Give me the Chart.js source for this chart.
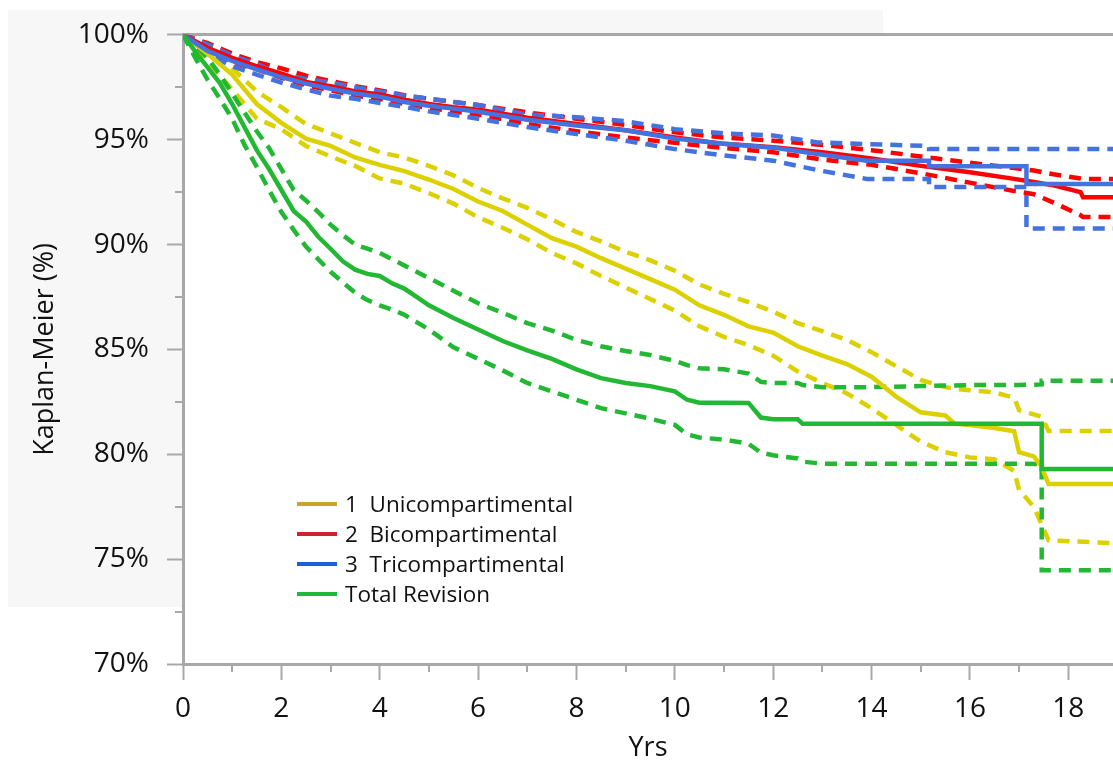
<!DOCTYPE html>
<html>
<head>
<meta charset="utf-8">
<title>Kaplan-Meier</title>
<script src="https://cdn.jsdelivr.net/npm/chart.js@4.4.1/dist/chart.umd.min.js"></script>
<style>
    html, body { margin: 0; padding: 0; background: #ffffff; }
    #wrap { position: relative; width: 1113px; height: 762px; }
    #legend {
        position: absolute; left: 297px; top: 489px;
        font-family: 'Open Sans', sans-serif; font-size: 22.5px; color: #111111;
    }
    .row { position: relative; height: 30px; line-height: 30px; white-space: pre; padding-left: 48px; }
    .row .sw { position: absolute; left: 0; top: 13px; width: 40px; height: 4px; }
</style>
</head>
<body>
<div id="wrap">
    <canvas id="kmChart" width="1113" height="762"></canvas>
    <div id="legend"></div>
</div>
<script>
// Kaplan-Meier survival by group (years, %), with confidence bands

// 1 Unicompartimental
const uniYears = [0, 0.5, 1, 1.5, 2, 2.5, 3, 3.5, 4, 4.5, 5, 5.5, 6, 6.5, 7, 7.5, 8, 8.5, 9, 9.5, 10, 10.5, 11, 11.5, 12, 12.5, 13, 13.5, 14, 14.5, 15, 15.5, 15.7, 16, 16.5, 16.9, 17.0, 17.3, 17.45, 17.6, 18.91];
const uniKM    = [100, 99.1, 98.1, 96.7, 95.8, 95.05, 94.7, 94.15, 93.8, 93.5, 93.1, 92.65, 92.05, 91.6, 90.95, 90.3, 89.9, 89.35, 88.85, 88.35, 87.85, 87.1, 86.65, 86.1, 85.8, 85.15, 84.7, 84.3, 83.7, 82.75, 82.0, 81.85, 81.45, 81.4, 81.25, 81.1, 80.1, 79.9, 79.45, 78.58, 78.58];
const uniHi    = [100, 99.5, 98.4, 97.3, 96.55, 95.75, 95.3, 94.85, 94.4, 94.15, 93.75, 93.3, 92.7, 92.2, 91.75, 91.2, 90.6, 90.15, 89.65, 89.25, 88.75, 88.1, 87.65, 87.25, 86.8, 86.25, 85.87, 85.45, 84.87, 84.2, 83.55, 83.2, 83.12, 83.05, 82.95, 82.7, 82.1, 81.9, 81.8, 81.11, 81.11];
const uniLo    = [100, 98.7, 97.4, 96.0, 95.5, 94.7, 94.2, 93.75, 93.15, 92.9, 92.45, 91.95, 91.3, 90.8, 90.25, 89.6, 89.1, 88.5, 87.95, 87.4, 86.85, 86.1, 85.6, 85.2, 84.7, 83.95, 83.4, 82.9, 82.2, 81.4, 80.6, 80.1, 80.0, 79.85, 79.77, 79.2, 78.3, 77.5, 76.7, 75.9, 75.76];

// 2 Bicompartimental
const biYears = [0, 0.5, 1, 1.5, 2, 2.5, 3, 3.5, 4, 4.5, 5, 5.5, 6, 7, 8, 9, 10, 11, 12, 13, 14, 15, 16, 16.9, 17.3, 17.7, 18.25, 18.3, 18.91];
const biKM    = [100, 99.38, 98.9, 98.5, 98.15, 97.75, 97.55, 97.3, 97.15, 96.9, 96.7, 96.55, 96.43, 96.05, 95.75, 95.45, 95.1, 94.8, 94.64, 94.4, 94.1, 93.75, 93.45, 93.13, 92.98, 92.82, 92.5, 92.26, 92.26];
const biHi    = [100, 99.6, 99.1, 98.7, 98.4, 98.05, 97.8, 97.55, 97.35, 97.12, 96.95, 96.8, 96.65, 96.3, 96.0, 95.7, 95.35, 95.1, 94.95, 94.75, 94.5, 94.2, 93.9, 93.65, 93.53, 93.35, 93.15, 93.13, 93.13];
const biLo    = [100, 99.25, 98.7, 98.35, 97.95, 97.6, 97.35, 97.1, 96.95, 96.7, 96.5, 96.35, 96.2, 95.75, 95.4, 95.1, 94.85, 94.6, 94.4, 94.05, 93.8, 93.4, 92.95, 92.55, 92.4, 92.0, 91.4, 91.31, 91.31];

// 3 Tricompartimental
const triYears = [0, 0.5, 1, 1.5, 2, 2.5, 3, 3.5, 4, 4.5, 5, 5.5, 6, 7, 8, 9, 10, 11, 12, 12.9, 13.9, 15.17, 15.17, 17.15, 17.15, 18.91];
const triKM    = [100, 99.23, 98.75, 98.35, 97.98, 97.67, 97.43, 97.2, 97.05, 96.8, 96.62, 96.48, 96.33, 95.95, 95.68, 95.45, 95.05, 94.8, 94.62, 94.32, 94.0, 94.0, 93.73, 93.73, 92.89, 92.89];
const triHi    = [100, 99.54, 99.0, 98.6, 98.12, 97.9, 97.72, 97.5, 97.3, 97.1, 96.95, 96.8, 96.65, 96.2, 96.07, 95.88, 95.5, 95.3, 95.2, 94.87, 94.79, 94.7, 94.56, 94.56, 94.56, 94.56];
const triLo    = [100, 99.07, 98.5, 98.1, 97.72, 97.4, 97.1, 96.95, 96.75, 96.56, 96.35, 96.18, 96.0, 95.6, 95.27, 94.95, 94.55, 94.25, 94.0, 93.55, 93.13, 93.13, 92.74, 92.74, 90.76, 90.76];

// Total Revision
const totYears = [0, 0.25, 0.5, 0.75, 1, 1.25, 1.5, 1.75, 2, 2.25, 2.5, 2.75, 3, 3.25, 3.5, 3.75, 4, 4.25, 4.5, 4.75, 5, 5.5, 6, 6.5, 7, 7.5, 8, 8.5, 9, 9.5, 10, 10.25, 10.5, 11, 11.5, 11.75, 12, 12.5, 12.6, 13, 14, 15, 16, 17, 17.46, 17.46, 18.91];
const totKM    = [100, 99.2, 98.45, 97.7, 96.7, 95.6, 94.5, 93.6, 92.6, 91.6, 91.1, 90.37, 89.8, 89.2, 88.8, 88.6, 88.5, 88.15, 87.9, 87.5, 87.1, 86.5, 85.95, 85.4, 84.95, 84.55, 84.05, 83.63, 83.4, 83.25, 83.0, 82.6, 82.46, 82.46, 82.45, 81.75, 81.67, 81.67, 81.45, 81.45, 81.45, 81.45, 81.45, 81.45, 81.45, 79.3, 79.3];
const totHi    = [100, 99.5, 98.9, 98.1, 97.2, 96.3, 95.4, 94.6, 93.6, 92.6, 92.1, 91.55, 90.95, 90.45, 90.0, 89.8, 89.6, 89.3, 89.0, 88.7, 88.4, 87.8, 87.2, 86.75, 86.25, 85.9, 85.45, 85.15, 84.92, 84.73, 84.45, 84.25, 84.1, 84.05, 83.85, 83.45, 83.4, 83.4, 83.3, 83.2, 83.2, 83.25, 83.3, 83.3, 83.33, 83.5, 83.5];
const totLo    = [100, 98.9, 97.85, 96.95, 96.0, 94.75, 93.7, 92.6, 91.55, 90.7, 89.9, 89.3, 88.7, 88.2, 87.7, 87.35, 87.1, 86.9, 86.65, 86.3, 85.95, 85.1, 84.55, 84.0, 83.4, 83.0, 82.6, 82.2, 81.95, 81.7, 81.4, 80.95, 80.8, 80.7, 80.5, 80.08, 79.95, 79.8, 79.65, 79.55, 79.55, 79.55, 79.55, 79.55, 79.53, 74.47, 74.47];

const groupNames = ['1  Unicompartimental', '2  Bicompartimental', '3  Tricompartimental', 'Total Revision'];
const lineColors = ['#dcd000', '#ff0000', '#4472e0', '#22b833'];
const legendColors = ['#c9a62a', '#d0202e', '#1a60d8', '#20b838'];

const yTickValues = [70, 75, 80, 85, 90, 95, 100];
const xTickLabels = [0, 2, 4, 6, 8, 10, 12, 14, 16, 18];

const AXIS_GRAY = '#a8a8a8';
const TEXT_COLOR = '#111111';

function toPoints(years, values) {
    return years.map((x, i) => ({ x: x, y: values[i] }));
}

function makeLine(label, years, values, color, dashed, order) {
    return {
        label: label,
        data: toPoints(years, values),
        borderColor: color,
        backgroundColor: color,
        borderWidth: 4.5,
        borderDash: dashed ? [12, 8] : [],
        borderCapStyle: 'butt',
        borderJoinStyle: 'miter',
        pointRadius: 0,
        tension: 0,
        fill: false,
        order: order
    };
}

const groups = [
    [uniYears, uniKM, uniHi, uniLo],
    [biYears, biKM, biHi, biLo],
    [triYears, triKM, triHi, triLo],
    [totYears, totKM, totHi, totLo]
];
// draw priority (lower order ends up on top)
const solidOrder = [3, 2, 1, 0];
const dashOrder = [7, 6, 5, 4];

const datasets = [];
groups.forEach((g, i) => {
    datasets.push(makeLine(groupNames[i] + ' upper', g[0], g[2], lineColors[i], true, dashOrder[i]));
    datasets.push(makeLine(groupNames[i] + ' lower', g[0], g[3], lineColors[i], true, dashOrder[i]));
    datasets.push(makeLine(groupNames[i], g[0], g[1], lineColors[i], false, solidOrder[i]));
});

// Light panel behind the axes, plot area stays white
const panelPlugin = {
    id: 'panel',
    beforeDraw(chart) {
        const ctx = chart.ctx;
        const a = chart.chartArea;
        ctx.save();
        ctx.fillStyle = '#f7f7f7';
        ctx.fillRect(8, 10, 875, 597);
        ctx.fillStyle = '#ffffff';
        ctx.fillRect(a.left, a.top, a.right - a.left, a.bottom - a.top);
        ctx.restore();
    }
};

// Short minor ticks between the labelled ones
const minorTicksPlugin = {
    id: 'minorTicks',
    afterDraw(chart) {
        const ctx = chart.ctx;
        const xs = chart.scales.x;
        const ys = chart.scales.y;
        ctx.save();
        ctx.strokeStyle = AXIS_GRAY;
        ctx.lineWidth = 2;
        ctx.beginPath();
        for (let v = 72.5; v < 100; v += 5) {
            const py = Math.round(ys.getPixelForValue(v));
            ctx.moveTo(ys.right - 8, py);
            ctx.lineTo(ys.right, py);
        }
        for (let v = 1; v < 19; v += 2) {
            const px = Math.round(xs.getPixelForValue(v));
            ctx.moveTo(px, xs.top);
            ctx.lineTo(px, xs.top + 8);
        }
        ctx.stroke();
        ctx.restore();
    }
};

function isMajor(v, step) {
    return Math.abs(v / step - Math.round(v / step)) < 1e-6;
}

Chart.defaults.font.family = "'Open Sans', sans-serif";
Chart.defaults.color = TEXT_COLOR;

new Chart(document.getElementById('kmChart'), {
    type: 'line',
    data: { datasets: datasets },
    options: {
        responsive: false,
        animation: false,
        devicePixelRatio: 1,
        layout: { padding: { top: 32, right: 0, bottom: 0, left: 0 } },
        plugins: {
            legend: { display: false },
            tooltip: { enabled: false }
        },
        scales: {
            x: {
                type: 'linear',
                min: 0,
                max: 18.91,
                afterFit(scale) { scale.height = 98; },
                border: { color: AXIS_GRAY, width: 3 },
                grid: {
                    drawOnChartArea: false,
                    tickLength: 16,
                    tickWidth: 2,
                    tickColor: (c) => (c.tick && xTickLabels.includes(c.tick.value)) ? AXIS_GRAY : 'transparent'
                },
                ticks: {
                    stepSize: 1,
                    includeBounds: false,
                    autoSkip: false,
                    maxRotation: 0,
                    padding: 12,
                    font: { size: 28 },
                    color: TEXT_COLOR,
                    callback: (v) => xTickLabels.includes(v) ? String(v) : ''
                },
                title: {
                    display: true,
                    text: 'Yrs',
                    font: { size: 27 },
                    color: TEXT_COLOR,
                    padding: { top: 0, bottom: -3 }
                }
            },
            y: {
                type: 'linear',
                min: 70,
                max: 100,
                afterFit(scale) { scale.width = 183; },
                border: { color: AXIS_GRAY, width: 3 },
                grid: {
                    drawOnChartArea: true,
                    tickLength: 16,
                    tickWidth: 2,
                    lineWidth: 3,
                    color: (c) => (c.tick && c.tick.value === 100) ? AXIS_GRAY : 'transparent',
                    tickColor: (c) => (c.tick && isMajor(c.tick.value, 5)) ? AXIS_GRAY : 'transparent'
                },
                ticks: {
                    stepSize: 2.5,
                    autoSkip: false,
                    padding: 18,
                    font: { size: 28 },
                    color: TEXT_COLOR,
                    callback: (v) => yTickValues.includes(v) ? v + '%' : ''
                },
                title: {
                    display: true,
                    text: 'Kaplan-Meier (%)',
                    font: { size: 27 },
                    color: TEXT_COLOR,
                    padding: { top: 29, bottom: 0 }
                }
            }
        }
    },
    plugins: [panelPlugin, minorTicksPlugin]
});

// Legend inside the plot area
const legendBox = document.getElementById('legend');
groupNames.forEach((name, i) => {
    const row = document.createElement('div');
    row.className = 'row';
    row.innerHTML = '<span class="sw" style="background:' + legendColors[i] + '"></span>' + name;
    legendBox.appendChild(row);
});
</script>
</body>
</html>
